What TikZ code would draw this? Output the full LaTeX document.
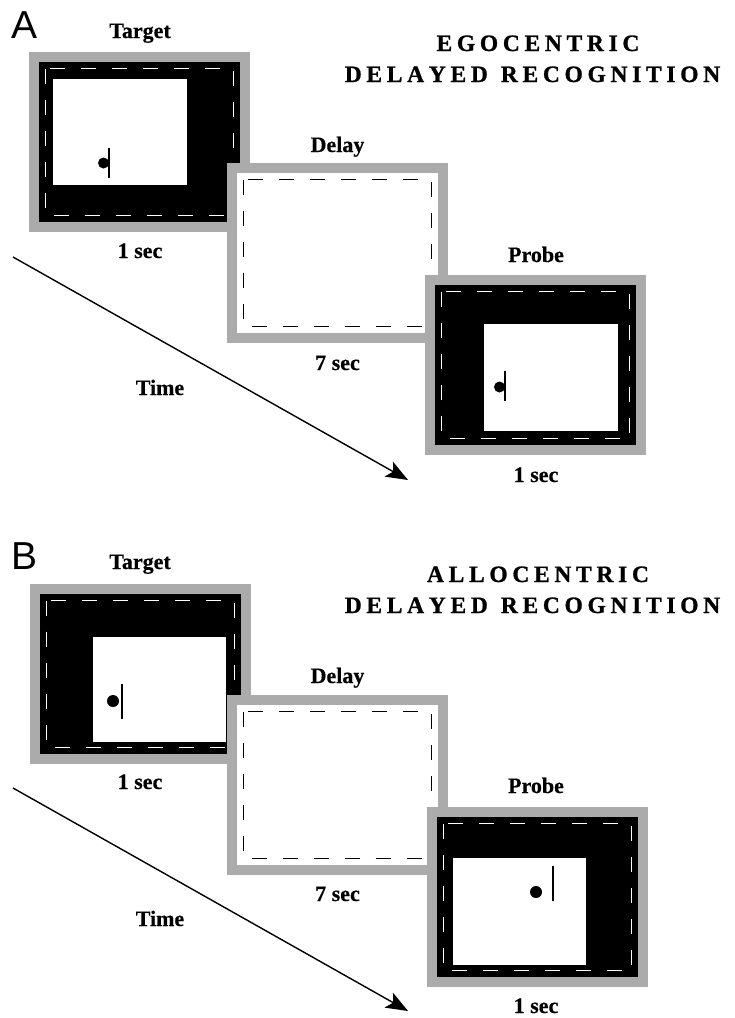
\documentclass[tikz,border=0pt]{standalone}
\usepackage{fontspec}
\setmainfont{Liberation Serif}
\newfontfamily\panelfont{Liberation Sans}
\makeatletter
\newcommand\spaceout[1]{\@tfor\ltr:=#1\do{\ltr\kern.2em}\unkern}
\makeatother
\usetikzlibrary{calc}
\usetikzlibrary{arrows.meta}
\usepackage{xcolor}
\definecolor{framegray}{gray}{0.67}
\tikzset{
  screen/.style={fill=black, draw=framegray, line width=10pt},
  blank/.style={fill=white, draw=framegray, line width=10pt},
  rim/.style={dash pattern=on 15pt off 16pt, line width=1.6pt},
  bar/.style={line width=1.8pt},
  lbl/.style={anchor=base, inner sep=0, font=\fontsize{22}{26}\selectfont\bfseries\addfontfeature{FakeBold=0.4}},
  ttl/.style={anchor=base, inner sep=0, font=\fontsize{23.5}{28}\selectfont\bfseries\addfontfeature{FakeBold=1}},
}
\begin{document}
\begin{tikzpicture}[x=1pt, y={(0,-1pt)}]
\useasboundingbox (0,0) rectangle (735,1018);
% egocentric
\draw[screen] (34,57) rectangle (245,227);
\fill[white] (53,79) rectangle (187,185);
\draw[rim, white] (45.5,68.5) rectangle (233.5,215.5);
\fill (103.5,163) circle (5.5);
\draw[bar] (109,148) -- (109,178);
\draw[blank] (232,168) rectangle (443,338);
\draw[rim] (243.5,179.5) rectangle (431.5,326.5);
\draw[screen] (430,280) rectangle (641,450);
\fill[white] (484,324) rectangle (618,431);
\draw[rim, white] (441.5,291.5) rectangle (629.5,438.5);
\fill (499.5,387) circle (5.5);
\draw[bar] (505,371) -- (505,401);
% allocentric
\draw[screen] (35,589) rectangle (246,759);
\fill[white] (93,637) rectangle (226,742);
\draw[rim, white] (46.5,600.5) rectangle (234.5,747.5);
\fill (113,701) circle (6);
\draw[bar] (122,684) -- (122,719);
\draw[blank] (232,700) rectangle (443,870);
\draw[rim] (243.5,711.5) rectangle (431.5,858.5);
\draw[screen] (432,812) rectangle (643,982);
\fill[white] (453,858) rectangle (586,965);
\draw[rim, white] (443.5,823.5) rectangle (631.5,970.5);
\fill (536,892) circle (6);
\draw[bar] (553,866) -- (553,901);
% labels and time axis
\foreach \oy/\p/\kind in {0/A/EGOCENTRIC, 531/B/ALLOCENTRIC} {
\begin{scope}[shift={(0,\oy)}]
  \node[inner sep=0, font=\fontsize{39}{44}\selectfont\panelfont] (panel\p) at (25,25) {\p};
  \node[ttl] (kind\p) at (538,51) {\expandafter\spaceout\expandafter{\kind}};
  \node[ttl] (task\p) at (532.5,82) {\spaceout{DELAYED}\hspace{13pt}\spaceout{RECOGNITION}};
  \node[lbl] (tgt\p) at (140,38) {Target};
  \node[lbl] (tgtsec\p) at (140,258) {1 sec};
  \node[lbl] (dly\p) at (337.5,152) {Delay};
  \node[lbl] (dlysec\p) at (337.5,370) {7 sec};
  \node[lbl] (prb\p) at (536,262) {Probe};
  \node[lbl] (prbsec\p) at (536,482) {1 sec};
  \node[lbl] (time\p) at (160,395) {Time};
  \coordinate (t0\p) at (13,257);
  \coordinate (t1\p) at (408,480);
  \draw[line width=1.4pt, -{Stealth[length=22pt, width=17pt, inset=5pt]}] (t0\p) -- (t1\p);
\end{scope}
}
\end{tikzpicture}
\end{document}
